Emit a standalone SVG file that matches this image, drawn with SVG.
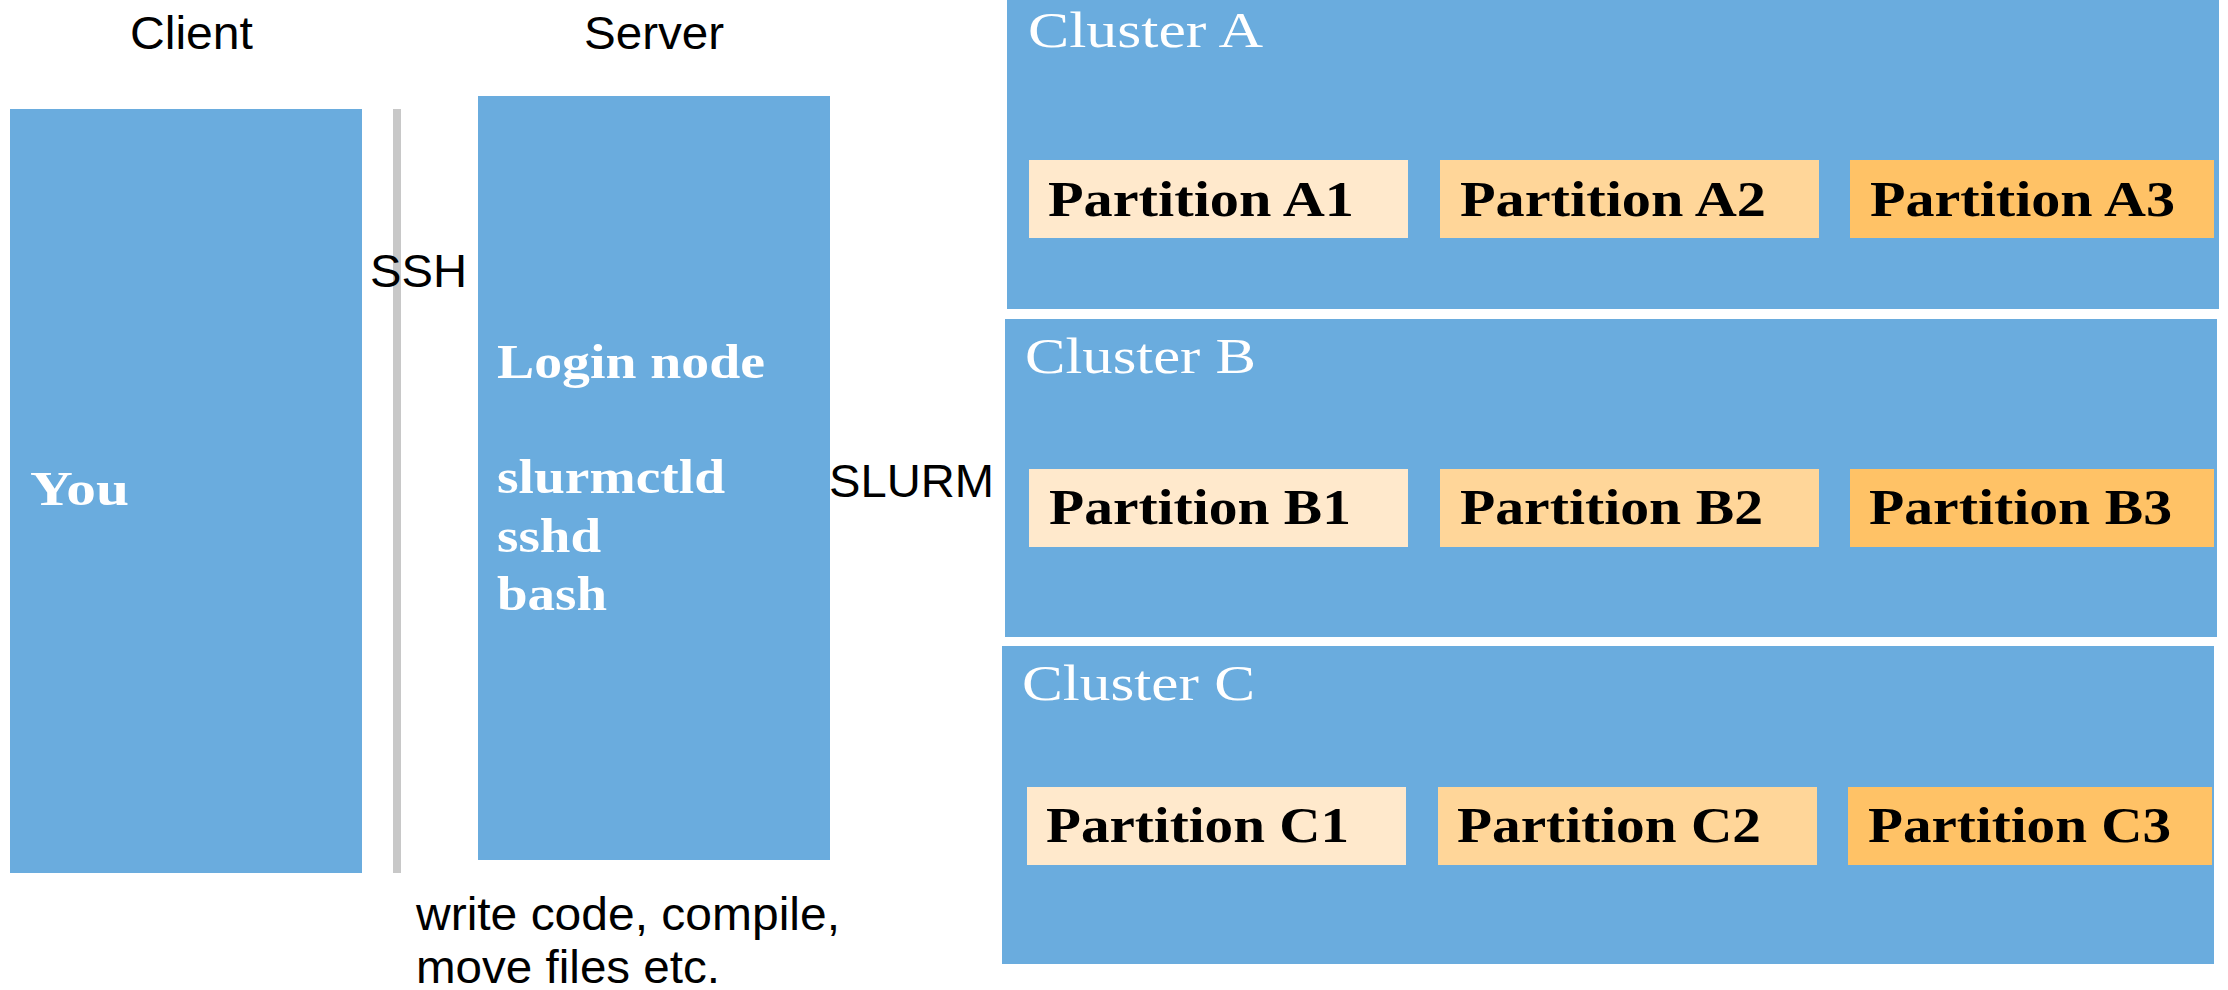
<svg xmlns="http://www.w3.org/2000/svg" width="2228" height="990" viewBox="0 0 2228 990">
<style>
.box{fill:#6AACDE}
.p1{fill:#FFE9CC}
.p2{fill:#FFD699}
.p3{fill:#FFC266}
.sans{font-family:"Liberation Sans",Arial,sans-serif;font-size:47px;fill:#000}
.wb{font-family:"Liberation Serif","Times New Roman",serif;font-size:48px;font-weight:bold;fill:#fff}
.cl{font-family:"Liberation Serif","Times New Roman",serif;font-size:50px;fill:#fff}
.pt{font-family:"Liberation Serif","Times New Roman",serif;font-size:50px;font-weight:bold;fill:#000}
</style>
<rect width="2228" height="990" fill="#fff"/>
<g id="headers">
<text class="sans" x="130" y="49" textLength="123" lengthAdjust="spacingAndGlyphs">Client</text>
<text class="sans" x="584" y="49" textLength="140" lengthAdjust="spacingAndGlyphs">Server</text>
</g>
<g id="connectors">
<rect x="393" y="109" width="8" height="764" fill="#C8C8C8"/>
<text class="sans" x="370" y="287" textLength="97" lengthAdjust="spacingAndGlyphs">SSH</text>
<text class="sans" x="829" y="497" textLength="165" lengthAdjust="spacingAndGlyphs">SLURM</text>
</g>
<g id="client">
<rect class="box" x="10" y="109" width="352" height="764"/>
<text class="wb" x="30" y="505" textLength="99" lengthAdjust="spacingAndGlyphs">You</text>
</g>
<g id="server">
<rect class="box" x="478" y="96" width="352" height="764"/>
<text class="wb" x="497" y="378" textLength="268" lengthAdjust="spacingAndGlyphs">Login node</text>
<text class="wb" x="497" y="493" textLength="228" lengthAdjust="spacingAndGlyphs">slurmctld</text>
<text class="wb" x="497" y="552" textLength="104" lengthAdjust="spacingAndGlyphs">sshd</text>
<text class="wb" x="497" y="610" textLength="110" lengthAdjust="spacingAndGlyphs">bash</text>
</g>
<g id="server-note">
<text class="sans" x="416" y="930" textLength="424" lengthAdjust="spacingAndGlyphs">write code, compile,</text>
<text class="sans" x="416" y="983" textLength="304" lengthAdjust="spacingAndGlyphs">move files etc.</text>
</g>
<g id="cluster-a">
<rect class="box" x="1007" y="0" width="1212" height="309"/>
<text class="cl" x="1028" y="47" textLength="235" lengthAdjust="spacingAndGlyphs">Cluster A</text>
<g id="partition-a1"><rect class="p1" x="1029" y="160" width="379" height="78"/>
<text class="pt" x="1048" y="216" textLength="306" lengthAdjust="spacingAndGlyphs">Partition A1</text></g>
<g id="partition-a2"><rect class="p2" x="1440" y="160" width="379" height="78"/>
<text class="pt" x="1460" y="216" textLength="306" lengthAdjust="spacingAndGlyphs">Partition A2</text></g>
<g id="partition-a3"><rect class="p3" x="1850" y="160" width="364" height="78"/>
<text class="pt" x="1870" y="216" textLength="305" lengthAdjust="spacingAndGlyphs">Partition A3</text></g>
</g>
<g id="cluster-b">
<rect class="box" x="1005" y="319" width="1212" height="318"/>
<text class="cl" x="1025" y="373" textLength="231" lengthAdjust="spacingAndGlyphs">Cluster B</text>
<g id="partition-b1"><rect class="p1" x="1029" y="469" width="379" height="78"/>
<text class="pt" x="1049" y="524" textLength="302" lengthAdjust="spacingAndGlyphs">Partition B1</text></g>
<g id="partition-b2"><rect class="p2" x="1440" y="469" width="379" height="78"/>
<text class="pt" x="1460" y="524" textLength="303" lengthAdjust="spacingAndGlyphs">Partition B2</text></g>
<g id="partition-b3"><rect class="p3" x="1850" y="469" width="364" height="78"/>
<text class="pt" x="1869" y="524" textLength="303" lengthAdjust="spacingAndGlyphs">Partition B3</text></g>
</g>
<g id="cluster-c">
<rect class="box" x="1002" y="646" width="1212" height="318"/>
<text class="cl" x="1022" y="700" textLength="233" lengthAdjust="spacingAndGlyphs">Cluster C</text>
<g id="partition-c1"><rect class="p1" x="1027" y="787" width="379" height="78"/>
<text class="pt" x="1046" y="842" textLength="303" lengthAdjust="spacingAndGlyphs">Partition C1</text></g>
<g id="partition-c2"><rect class="p2" x="1438" y="787" width="379" height="78"/>
<text class="pt" x="1457" y="842" textLength="304" lengthAdjust="spacingAndGlyphs">Partition C2</text></g>
<g id="partition-c3"><rect class="p3" x="1848" y="787" width="364" height="78"/>
<text class="pt" x="1868" y="842" textLength="303" lengthAdjust="spacingAndGlyphs">Partition C3</text></g>
</g>
</svg>
